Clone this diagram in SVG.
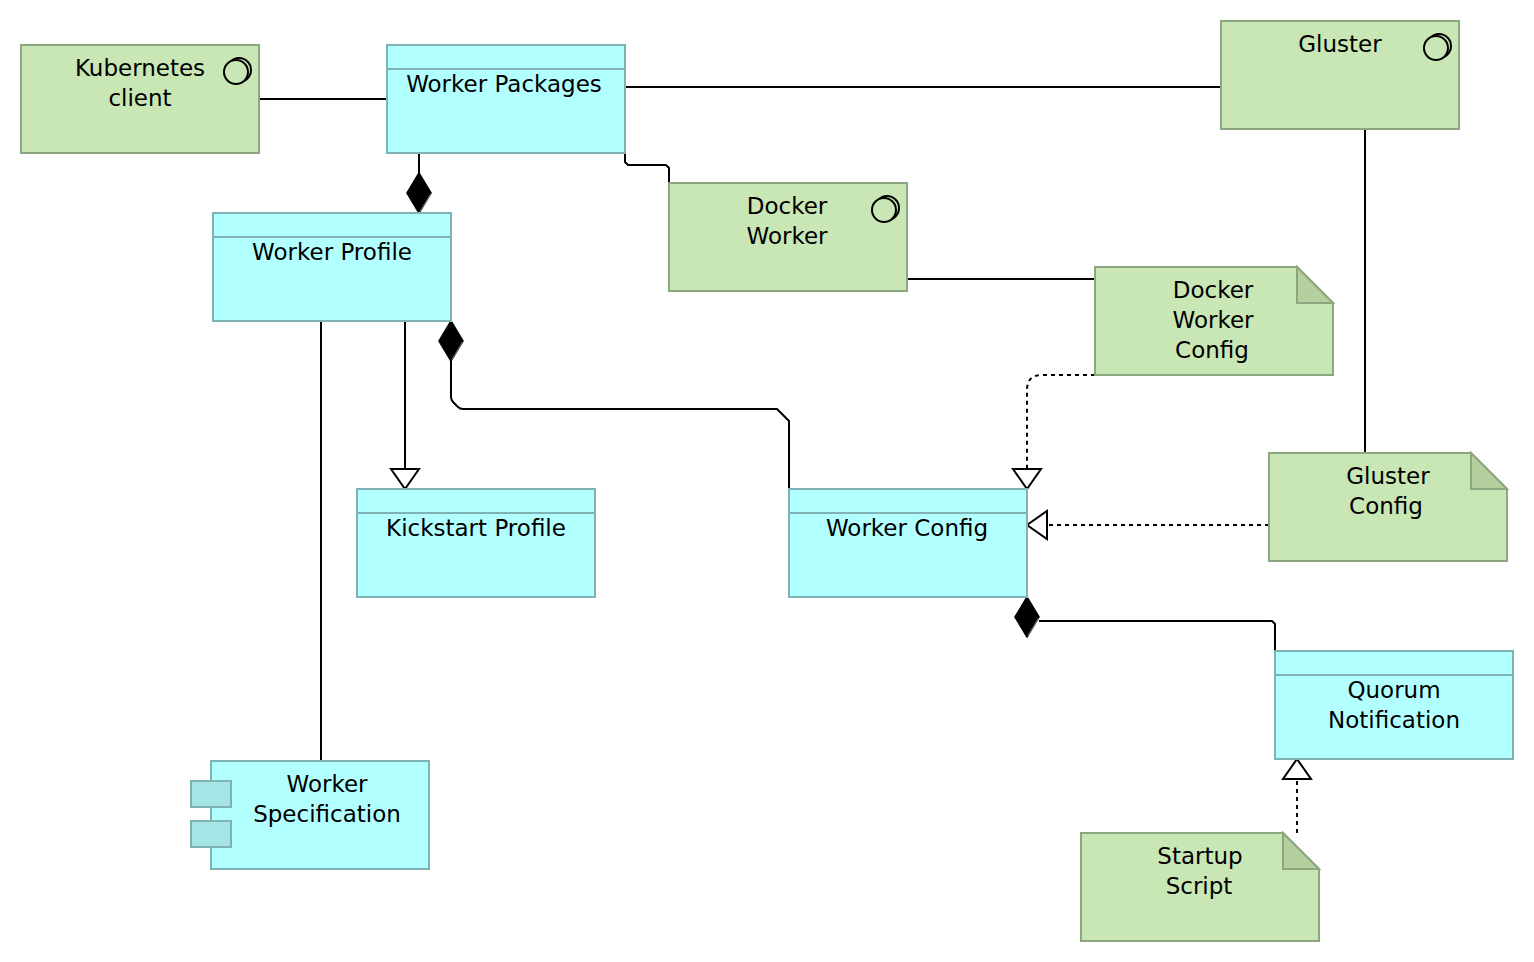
<svg xmlns="http://www.w3.org/2000/svg" width="1534" height="962" viewBox="0 0 1534 962">
<style>
.b{fill:#b2ffff;stroke:#7fb2b2;stroke-width:2}
.bt{fill:#a5e5e5;stroke:#7fb2b2;stroke-width:2}
.g{fill:#c9e6b5;stroke:#8ba77f;stroke-width:2}
.gd{fill:#b5cf9f;stroke:#8ba77f;stroke-width:2}
.d{fill:none;stroke:#7fb2b2;stroke-width:2}
text{font-family:"DejaVu Sans","Noto Sans",sans-serif;font-size:23px;fill:#000;text-anchor:middle}
.i{fill:#c9e6b5;stroke:#000;stroke-width:2}
.c{fill:none;stroke:#000;stroke-width:2}
.da{stroke-dasharray:4 4}
.tri{fill:#fff;stroke:#000;stroke-width:2}
.dia{fill:#000;stroke:#000;stroke-width:1.5;stroke-linejoin:round}
.hl{fill:none;stroke:#999;stroke-width:.8}
</style>
<g id="connectors">
<path class="c" d="M259 99H387"/>
<path class="c" d="M625 87H1221"/>
<path class="c" d="M419 153V173"/>
<path class="c" d="M625 153V162L628 165H666L669 168V183"/>
<path class="c" d="M907 279H1095"/>
<path class="c" d="M1365 129V453"/>
<path class="c" d="M321 321V761"/>
<path class="c" d="M405 321V469"/>
<path class="c" d="M451 361V397Q451 400 453 402L458 407Q460 409 463 409H777L789 421V489"/>
<path class="c" d="M1039 621H1272L1275 624V651"/>
<path class="c da" d="M1095 375H1042Q1027 375 1027 390V469"/>
<path class="c da" d="M1269 525H1048"/>
<path class="c da" d="M1297 833V781"/>
<polygon class="dia" points="419,173 431,193 419,213 407,193"/>
<path class="hl" d="M430.500 194L420 211.500"/>
<polygon class="dia" points="451,321 463,341 451,361 439,341"/>
<path class="hl" d="M462.500 342L452 359.500"/>
<polygon class="dia" points="1027,597 1039,617 1027,637 1015,617"/>
<path class="hl" d="M1038.500 618L1028 635.500"/>
<polygon class="tri" points="391,469 419,469 405,489"/>
<polygon class="tri" points="1013,469 1041,469 1027,489"/>
<polygon class="tri" points="1047,511 1047,539 1027,525"/>
<polygon class="tri" points="1283,779 1311,779 1297,759"/>
</g>
<g id="kubernetes-client"><rect class="g" x="21" y="45" width="238" height="108"/><circle class="i" cx="239" cy="70" r="12"/><circle class="i" cx="236" cy="72" r="12"/><text x="140" y="76">Kubernetes</text><text x="140" y="106">client</text></g>
<g id="worker-packages"><rect class="b" x="387" y="45" width="238" height="108"/><path class="d" d="M387 69H625"/><text x="504" y="92">Worker Packages</text></g>
<g id="gluster"><rect class="g" x="1221" y="21" width="238" height="108"/><circle class="i" cx="1439" cy="46" r="12"/><circle class="i" cx="1436" cy="48" r="12"/><text x="1340" y="52">Gluster</text></g>
<g id="worker-profile"><rect class="b" x="213" y="213" width="238" height="108"/><path class="d" d="M213 237H451"/><text x="332" y="260">Worker Profile</text></g>
<g id="docker-worker"><rect class="g" x="669" y="183" width="238" height="108"/><circle class="i" cx="887" cy="208" r="12"/><circle class="i" cx="884" cy="210" r="12"/><text x="787" y="214">Docker</text><text x="787" y="244">Worker</text></g>
<g id="docker-worker-config"><path class="g" d="M1095 267H1297L1333 303V375H1095Z"/><path class="gd" d="M1297 267V303H1333Z"/><text x="1213" y="298">Docker</text><text x="1213" y="328">Worker</text><text x="1212" y="358">Config</text></g>
<g id="kickstart-profile"><rect class="b" x="357" y="489" width="238" height="108"/><path class="d" d="M357 513H595"/><text x="476" y="536">Kickstart Profile</text></g>
<g id="worker-config"><rect class="b" x="789" y="489" width="238" height="108"/><path class="d" d="M789 513H1027"/><text x="907" y="536">Worker Config</text></g>
<g id="gluster-config"><path class="g" d="M1269 453H1471L1507 489V561H1269Z"/><path class="gd" d="M1471 453V489H1507Z"/><text x="1388" y="484">Gluster</text><text x="1386" y="514">Config</text></g>
<g id="quorum-notification"><rect class="b" x="1275" y="651" width="238" height="108"/><path class="d" d="M1275 675H1513"/><text x="1394" y="698">Quorum</text><text x="1394" y="728">Notification</text></g>
<g id="worker-specification"><rect class="b" x="211" y="761" width="218" height="108"/><rect class="bt" x="191" y="781" width="40" height="26"/><rect class="bt" x="191" y="821" width="40" height="26"/><text x="327" y="792">Worker</text><text x="327" y="822">Specification</text></g>
<g id="startup-script"><path class="g" d="M1081 833H1283L1319 869V941H1081Z"/><path class="gd" d="M1283 833V869H1319Z"/><text x="1200" y="864">Startup</text><text x="1199" y="894">Script</text></g>
</svg>
